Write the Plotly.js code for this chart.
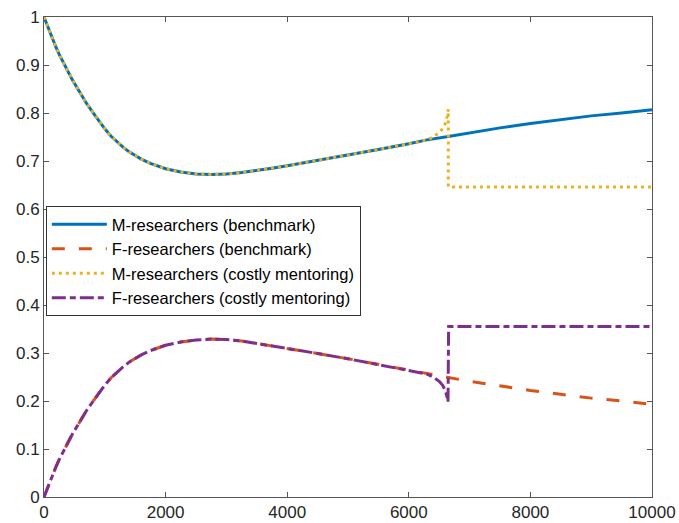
<!DOCTYPE html>
<html>
<head>
<meta charset="utf-8">
<script src="https://cdn.plot.ly/plotly-3.0.1.min.js"></script>
<style>html,body{margin:0;padding:0;background:#fff;}#chart{width:679px;height:523px;}</style>
</head>
<body>
<div id="chart"></div>
<script>
// Benchmark series
const xBench = [0, 50, 100, 150, 200, 250, 300, 350, 400, 450, 500, 550, 600, 700, 800, 900, 1000, 1100, 1200, 1300, 1400, 1500, 1600, 1750, 1900, 2000, 2250, 2500, 2750, 3000, 3250, 3500, 3750, 4000, 4500, 5000, 5500, 6000, 6300, 6650, 7000, 7500, 8000, 8500, 9000, 9500, 10000];
const mBench = [1.000, 0.983, 0.966, 0.951, 0.936, 0.922, 0.909, 0.897, 0.885, 0.873, 0.862, 0.851, 0.840, 0.820, 0.802, 0.784, 0.767, 0.752, 0.740, 0.729, 0.719, 0.711, 0.704, 0.695, 0.688, 0.684, 0.677, 0.673, 0.672, 0.673, 0.676, 0.680, 0.685, 0.690, 0.701, 0.712, 0.724, 0.736, 0.744, 0.751, 0.759, 0.769, 0.778, 0.786, 0.794, 0.800, 0.807];
const fBench = [0.000, 0.017, 0.034, 0.049, 0.064, 0.078, 0.091, 0.103, 0.115, 0.127, 0.138, 0.149, 0.160, 0.180, 0.198, 0.216, 0.233, 0.248, 0.260, 0.271, 0.281, 0.289, 0.296, 0.305, 0.312, 0.316, 0.323, 0.327, 0.329, 0.328, 0.325, 0.320, 0.315, 0.310, 0.299, 0.288, 0.276, 0.264, 0.256, 0.249, 0.241, 0.231, 0.222, 0.214, 0.206, 0.200, 0.193];

// Costly mentoring series
const xCostM = [0, 50, 100, 150, 200, 250, 300, 350, 400, 450, 500, 550, 600, 700, 800, 900, 1000, 1100, 1200, 1300, 1400, 1500, 1600, 1750, 1900, 2000, 2250, 2500, 2750, 3000, 3250, 3500, 3750, 4000, 4500, 5000, 5500, 6000, 6300, 6400, 6500, 6560, 6600, 6630, 6650, 6650, 7000, 8000, 9000, 10000];
const mCost  = [1.000, 0.983, 0.966, 0.951, 0.936, 0.922, 0.909, 0.897, 0.885, 0.873, 0.862, 0.851, 0.840, 0.820, 0.802, 0.784, 0.767, 0.752, 0.740, 0.729, 0.719, 0.711, 0.704, 0.695, 0.688, 0.684, 0.677, 0.673, 0.672, 0.673, 0.676, 0.680, 0.685, 0.690, 0.701, 0.712, 0.724, 0.736, 0.744, 0.750, 0.759, 0.768, 0.778, 0.792, 0.808, 0.646, 0.646, 0.646, 0.646, 0.646];
const xCostF = [0, 50, 100, 150, 200, 250, 300, 350, 400, 450, 500, 550, 600, 700, 800, 900, 1000, 1100, 1200, 1300, 1400, 1500, 1600, 1750, 1900, 2000, 2250, 2500, 2750, 3000, 3250, 3500, 3750, 4000, 4500, 5000, 5500, 6000, 6300, 6400, 6500, 6560, 6600, 6630, 6645, 6655, 7000, 8000, 9000, 10000];
const fCost  = [0.000, 0.017, 0.034, 0.049, 0.064, 0.078, 0.091, 0.103, 0.115, 0.127, 0.138, 0.149, 0.160, 0.180, 0.198, 0.216, 0.233, 0.248, 0.260, 0.271, 0.281, 0.289, 0.296, 0.305, 0.312, 0.316, 0.323, 0.327, 0.329, 0.328, 0.325, 0.320, 0.315, 0.310, 0.299, 0.288, 0.276, 0.264, 0.256, 0.250, 0.241, 0.232, 0.222, 0.208, 0.198, 0.355, 0.355, 0.355, 0.355, 0.355];

const names = ["M-researchers (benchmark)", "F-researchers (benchmark)", "M-researchers (costly mentoring)", "F-researchers (costly mentoring)"];
const xTicks = [0, 2000, 4000, 6000, 8000, 10000];
const yTicks = [0, 0.1, 0.2, 0.3, 0.4, 0.5, 0.6, 0.7, 0.8, 0.9, 1];

const traces = [
  {x: xBench, y: mBench, name: names[0], mode: "lines", line: {color: "#0072BD", width: 3}},
  {x: xBench, y: fBench, name: names[1], mode: "lines", line: {color: "#D95319", width: 3, dash: "13px,14px"}},
  {x: xCostM, y: mCost, name: names[2], mode: "lines", line: {color: "#EDB120", width: 3, dash: "3px,4px"}},
  {x: xCostF, y: fCost, name: names[3], mode: "lines", line: {color: "#7E2F8E", width: 3, dash: "14px,4px,6px,4px"}}
];

const axisCommon = {
  showgrid: false, zeroline: false, showline: true, linecolor: "#555", linewidth: 1,
  mirror: "ticks", ticks: "inside", ticklen: 5, tickcolor: "#555",
  tickfont: {family: "Liberation Sans, Arial, sans-serif", size: 17, color: "#262626"}
};

const layout = {
  width: 679, height: 523,
  margin: {l: 44, r: 27, t: 17, b: 26},
  paper_bgcolor: "#fff", plot_bgcolor: "#fff",
  xaxis: Object.assign({}, axisCommon, {range: [0, 10000], tickvals: xTicks, ticktext: xTicks.map(String)}),
  yaxis: Object.assign({}, axisCommon, {range: [0, 1], tickvals: yTicks, ticktext: yTicks.map(v => String(v))}),
  showlegend: true,
  legend: {
    x: 0.003, y: 0.606, xanchor: "left", yanchor: "top",
    bgcolor: "#fff", bordercolor: "#333", borderwidth: 1,
    font: {family: "Liberation Sans, Arial, sans-serif", size: 16.5, color: "#000"},
    itemwidth: 55
  }
};

Plotly.newPlot("chart", traces, layout, {displayModeBar: false, staticPlot: true});
</script>
</body>
</html>
